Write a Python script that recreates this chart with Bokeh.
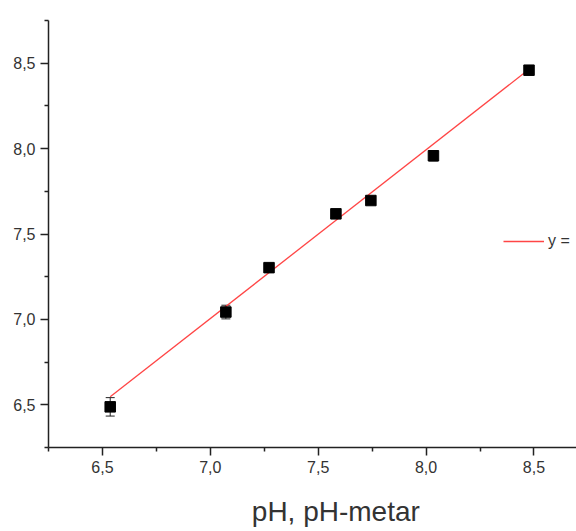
from bokeh.plotting import figure
from bokeh.models import (ColumnDataSource, Whisker, FixedTicker, Legend, LegendItem,
                          Range1d)
from bokeh.embed import file_html
from bokeh.resources import INLINE

# data
ph_meter = [6.536, 7.072, 7.272, 7.582, 7.744, 8.034, 8.477]
ph_measured = [6.488, 7.043, 7.303, 7.618, 7.696, 7.958, 8.459]
ph_error = [0.054, 0.040, 0.015, 0.012, 0.012, 0.030, 0.012]

fit_slope = 0.988
fit_intercept = 0.089

major_ticks = [6.5, 7.0, 7.5, 8.0, 8.5]
minor_ticks = [6.25, 6.75, 7.25, 7.75, 8.25, 8.75]
tick_labels = {6.5: "6,5", 7.0: "7,0", 7.5: "7,5", 8.0: "8,0", 8.5: "8,5"}

legend_text = "y ="
x_title = "pH, pH-metar"

FONT = "Liberation Sans"
TXT = "#333333"

p = figure(width=576, height=531, output_backend="svg", toolbar_location=None,
           x_range=Range1d(6.25, 8.697), y_range=Range1d(6.25, 8.75),
           min_border_left=48, min_border_right=0, min_border_top=20,
           min_border_bottom=84)
p.outline_line_color = None
p.xgrid.visible = False
p.ygrid.visible = False
p.background_fill_color = "white"
p.border_fill_color = "white"

for ax in (p.xaxis[0], p.yaxis[0]):
    ax.ticker = FixedTicker(ticks=major_ticks, minor_ticks=minor_ticks)
    ax.major_label_overrides = tick_labels
    ax.axis_line_color = "#222222"
    ax.axis_line_width = 1.5
    ax.major_tick_line_color = "#222222"
    ax.major_tick_line_width = 1.5
    ax.minor_tick_line_color = "#222222"
    ax.minor_tick_line_width = 1.5
    ax.major_tick_in = 0
    ax.major_tick_out = 8
    ax.minor_tick_in = 0
    ax.minor_tick_out = 4
    ax.major_label_text_font = FONT
    ax.major_label_text_font_size = "16px"
    ax.major_label_text_color = TXT
    ax.major_label_standoff = 5

# x title: centred on the (cropped) full frame of the original, so padded on the left
p.xaxis.axis_label = "\u00a0" * 6 + x_title
p.xaxis.axis_label_text_font = FONT
p.xaxis.axis_label_text_font_size = "28px"
p.xaxis.axis_label_text_font_style = "normal"
p.xaxis.axis_label_text_color = TXT
p.xaxis.axis_label_standoff = 20

src = ColumnDataSource(dict(
    x=ph_meter, y=ph_measured,
    upper=[v + e for v, e in zip(ph_measured, ph_error)],
    lower=[v - e for v, e in zip(ph_measured, ph_error)],
))

# fit line over data span
fx = [min(ph_meter), max(ph_meter)]
fy = [fit_intercept + fit_slope * v for v in fx]
fit = p.line(fx, fy, line_color="#ff4545", line_width=1.3)

w = Whisker(source=src, base="x", upper="upper", lower="lower",
            line_color="#222222", line_width=1)
w.upper_head.size = 9
w.lower_head.size = 9
w.upper_head.line_color = "#222222"
w.lower_head.line_color = "#222222"
p.add_layout(w)

p.scatter("x", "y", source=src, marker="square", size=10.5,
          fill_color="black", line_color="black")

legend = Legend(items=[LegendItem(label=legend_text, renderers=[fit])],
                location=(455, 196), border_line_color=None,
                background_fill_alpha=0, padding=0, margin=0,
                glyph_width=41, glyph_height=20, label_height=20,
                label_standoff=4, label_text_font=FONT,
                label_text_font_size="16px", label_text_color=TXT)
p.add_layout(legend)

open("out.html", "w").write(file_html(p, INLINE))
